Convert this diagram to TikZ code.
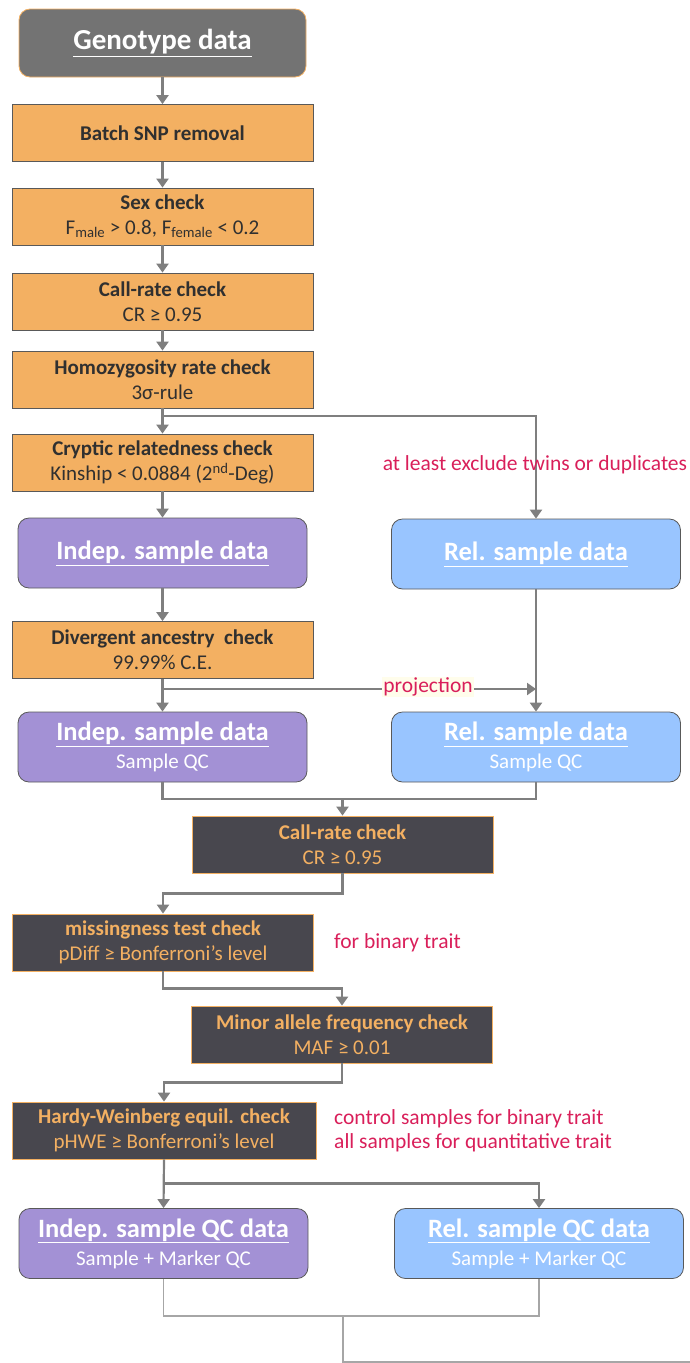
\documentclass[tikz,border=0pt]{standalone}
\usepackage{fontspec}
\setmainfont{Carlito}
\usetikzlibrary{arrows.meta,calc}
\definecolor{qorange}{HTML}{F3B062}
\definecolor{qdark}{HTML}{48474E}
\definecolor{qgrey}{HTML}{737373}
\definecolor{qpurple}{HTML}{A391D5}
\definecolor{qblue}{HTML}{99C5FF}
\definecolor{qline}{HTML}{7F7F7F}
\definecolor{qthin}{HTML}{A6A6A6}
\definecolor{qred}{HTML}{D91F5A}
\definecolor{qtext}{HTML}{303030}
\definecolor{qglow}{HTML}{FFFDEB}
\tikzset{box/.style={rectangle,draw=qtext!80,fill=qorange,text=qtext,line width=0.8pt,
  minimum width=301,minimum height=57,align=center,inner sep=0pt,font=\fontsize{21}{25}\selectfont},
  dbox/.style={box,draw=qorange,fill=qdark,text=qorange},
  pbox/.style={rectangle,rounded corners=11pt,draw=qtext!80,line width=0.8pt,fill=qpurple,text=white,
  minimum width=289,minimum height=70,align=center,inner sep=0pt,font=\bfseries\fontsize{26.5}{28}\selectfont},
  bbox/.style={pbox,fill=qblue},
  note/.style={text=qred,font=\fontsize{21.5}{24}\selectfont,inner sep=1pt,align=left},
  arr/.style={draw=qline,line width=2.2pt,-{Triangle[width=12pt,length=9pt]}},
  ln/.style={draw=qline,line width=2.2pt},
  thinln/.style={draw=qthin,line width=1.5pt}}
\newcommand{\sub}[1]{{\normalfont\fontsize{21}{24}\selectfont #1}}
\begin{document}
\begin{tikzpicture}[x=1pt,y=-1pt]
\useasboundingbox (0,0) rectangle (690,1363);
\node[pbox,fill=qgrey,draw=qorange,minimum width=287,minimum height=68,font=\bfseries\fontsize{29}{32}\selectfont] (geno) at (162.5,43) {\underline{Genotype data}};
\node[box] (batch) at (162.5,133) {\textbf{Batch SNP removal}};
\node[box] (sex) at (162.5,216.5) {\textbf{Sex check}\\F\textsubscript{male} > 0.8, F\textsubscript{female} < 0.2};
\node[box] (cr1) at (162.5,301.5) {\textbf{Call-rate check}\\CR ≥ 0.95};
\node[box] (homo) at (162.5,379.5) {\textbf{Homozygosity rate check}\\3σ-rule};
\node[box] (cryp) at (162.5,462.5) {\textbf{Cryptic relatedness check}\\Kinship < 0.0884 (2\textsuperscript{nd}-Deg)};
\node[pbox] (ind1) at (162.5,553) {\underline{Indep. sample data}};
\node[bbox] (rel1) at (536,554) {\underline{Rel. sample data}};
\node[box] (div) at (162.5,650) {\textbf{Divergent ancestry\ \ check}\\99.99\% C.E.};
\node[pbox] (ind2) at (162.5,747) {\underline{Indep. sample data}\\\sub{Sample QC}};
\node[bbox] (rel2) at (536,747) {\underline{Rel. sample data}\\\sub{Sample QC}};
\node[dbox] (cr2) at (342.5,844.5) {\textbf{Call-rate check}\\CR ≥ 0.95};
\node[dbox] (miss) at (163,942.5) {\textbf{missingness test check}\\pDiff ≥ Bonferroni’s level};
\node[dbox] (maf) at (342,1034.5) {\textbf{Minor allele frequency check}\\MAF ≥ 0.01};
\node[dbox,minimum width=304] (hwe) at (164,1130.5) {\textbf{Hardy-Weinberg equil. check}\\pHWE ≥ Bonferroni’s level};
\node[pbox] (indqc) at (163.5,1243.5) {\underline{Indep. sample QC data}\\\sub{Sample + Marker QC}};
\node[bbox] (relqc) at (539,1243.5) {\underline{Rel. sample QC data}\\\sub{Sample + Marker QC}};

\foreach \a/\b in {geno/batch,batch/sex,sex/cr1,cr1/homo,homo/cryp,cryp/ind1,ind1/div,div/ind2,rel1/rel2}
  \draw[arr] (\a) -- (\b);
\coordinate (br1) at (162.5,416);
\draw[arr] (br1) -| (rel1.north);
\node[note] (twins) at (535,465) {at least exclude twins or duplicates};
\coordinate (br2) at (162.5,689);
\draw[arr] (br2) -- (rel1.south |- br2);
\node[note,fill=qglow] (proj) at (428,687) {projection};
\coordinate (m1) at (342.5,799);
\draw[ln] (ind2.south) |- (m1) -| (rel2.south);
\draw[arr] (m1) -- (cr2.north);
\draw[arr] (cr2.south) -- ++(0,20) -| (miss.north);
\node[note,anchor=west] (bin) at (333,943) {for binary trait};
\draw[arr] (miss.south) -- ++(0,17) -| (maf.north);
\draw[arr] (maf.south) -- ++(0,19) -| (hwe.north);
\node[note,anchor=west] (ctrl) at (333,1131) {control samples for binary trait\\all samples for quantitative trait};
\draw[arr] (hwe.south) -- (indqc.north);
\draw[arr] (hwe.south) ++(0,24) -| (relqc.north);
\coordinate (m3) at (343,1316);
\coordinate (out) at (690,1362);
\draw[thinln] (indqc.south) |- (m3) -| (relqc.south);
\draw[thinln] (m3) |- (out);
\end{tikzpicture}
\end{document}
